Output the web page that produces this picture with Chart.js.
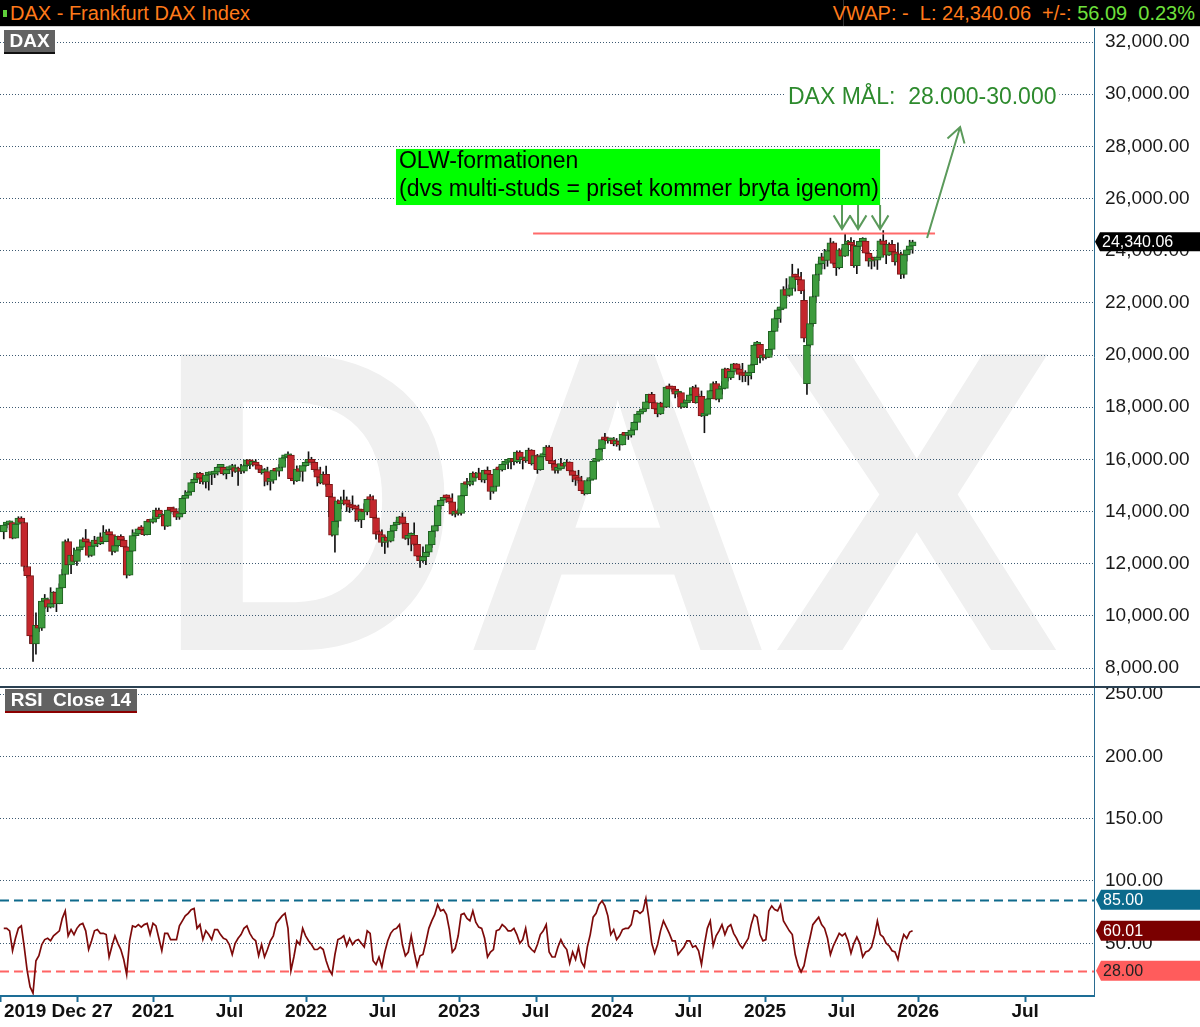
<!DOCTYPE html>
<html lang="sv">
<head>
<meta charset="UTF-8">
<title>DAX - Frankfurt DAX Index</title>
<script src="https://cdn.jsdelivr.net/npm/chart.js@4.4.1/dist/chart.umd.min.js"></script>
<style>
    body {
        margin: 0;
        width: 1200px;
        height: 1027px;
        overflow: hidden;
        position: relative;
        background: #fff;
        font-family: "Liberation Sans", Arial, sans-serif;
    }
    #hdr {
        position: absolute;
        left: 0; top: 0;
        width: 1200px; height: 26px;
        background: #000;
        border-bottom: 1px solid #d0d0d0;
        color: #ff7a1a;
        font-size: 20px;
        line-height: 26px;
    }
    #hdr .sq { position: absolute; left: 3px; top: 10px; width: 4px; height: 7px; background: #5fd03a; }
    #hdr .l { position: absolute; left: 10px; top: 0; }
    #hdr .sep { position: absolute; left: 843px; top: 0; width: 1px; height: 26px; background: #333; }
    #hdr .r { position: absolute; right: 5px; top: 0; white-space: pre; }
    #hdr .g { color: #6fe03c; }
    #top { position: absolute; left: 0; top: 28px; }
    #rsi { position: absolute; left: 0; top: 686px; }
</style>
</head>
<body>
<div id="hdr"><span class="sq"></span><span class="l">DAX - Frankfurt DAX Index</span><span class="sep"></span><span class="r">VWAP: -  L: 24,340.06  +/-: <span class="g">56.09  0.23%</span></span></div>
<canvas id="top" width="1200" height="658"></canvas>
<canvas id="rsi" width="1200" height="341"></canvas>

<script>
// veckostaplar, första fredagen
const firstWeek = '2020-01-10';

const opens = [
    // 2020
    13220,13483,13526,13577,12982,13514,13744,13579,11890,11541,9232,8928,9632,9525,10565,10626,10336,10466,10904,10465,11074,11586,12848,11949,12331,12089,
    12528,12633,12920,12838,12313,12674,12901,12765,13033,12842,13203,13116,12469,12689,13051,12909,12646,11556,12480,13077,13137,13335,13299,13114,13631,13587,
    // 2021
    13719,14050,13788,13874,13433,14057,14050,13993,13786,13920,14502,14621,14748,15107,15234,15459,15280,15136,15400,15417,15437,15520,15693,15693,15448,15607,
    15650,15688,15540,15669,15544,15761,15977,15808,15851,15781,15609,15490,15531,15156,15206,15587,15543,15688,16054,16094,16160,15257,15169,15623,15532,15756,
    // 2022
    15885,15948,15883,15603,15318,15100,15425,15042,14567,13094,13628,14413,14305,14446,14284,14164,14142,14098,13674,14027,13982,14462,14460,13762,13127,13118,
    12813,13016,12865,13254,13484,13573,13795,13544,12971,13050,13088,12741,12284,12114,12273,12438,12731,13243,13459,14224,14431,14541,14529,14370,13893,13940,
    // 2023
    13924,14610,15087,15034,15150,15476,15308,15482,15210,15578,15428,14768,14957,15629,15598,15808,15882,15922,15961,15914,16275,15983,16051,15949,16358,15830,
    16148,15603,16105,16177,16469,15952,15832,15574,15632,15840,15740,15894,15557,15387,15230,15187,14798,14687,15189,15234,15919,15967,16398,16759,16751,16706,
    // 2024
    16752,16594,16704,16556,16961,16918,16927,17117,17419,17735,17815,17936,18206,18492,18175,17930,17737,18161,18001,18772,18704,18693,18498,18557,18002,18164,
    18235,18475,18748,18172,18418,17661,17723,18322,18633,18906,18302,18699,18720,19474,19121,19374,19657,19464,19255,19215,19211,19323,19626,20385,20406,19885,
    // 2025
    19985,19906,20215,20903,21395,21732,21787,22513,22287,22551,23009,22987,22892,22100,18900,20374,21206,22242,23087,23499,23767,23630,23997,24304,23516,23350,
    24033,23787,24255,24290,24218,23426,24163,24359,24363,23902,23597,23698,23639,23739,24378,24241,23830,24240,23958,23570,23877,23092,23836,24028,24186
];
const highs = [
    13495,13560,13640,13580,13560,13800,13800,13600,12330,11550,9380,10120,10020,10650,10820,10680,11080,10930,10920,11230,11780,12910,12950,12480,12600,12630,
    12750,12990,13310,12910,12730,13050,13000,13180,13460,13300,13330,13120,12830,13060,13110,12990,12650,12580,13300,13180,13360,13460,13350,13650,13640,13800,
    14130,14130,13940,13900,14080,14110,14170,14100,14120,14570,14800,14790,15120,15290,15480,15500,15400,15420,15460,15500,15570,15730,15720,15800,15650,15700,
    15810,15790,15700,15810,15810,15990,15990,15920,15990,15800,15730,15650,15700,15250,15600,15660,15800,16070,16120,16290,16200,15620,15750,15750,15780,15950,
    16290,16080,15950,15690,15700,15520,15740,15170,14700,13950,14450,14560,14820,14560,14350,14600,14180,14250,14030,14300,14480,14650,14600,13870,13270,13300,
    13060,13100,13360,13500,13650,13810,13950,13620,13200,13180,13570,12890,12340,12650,12480,12800,13280,13490,14270,14440,14560,14640,14560,14680,14080,14100,
    14620,15100,15270,15170,15520,15500,15660,15500,15590,15710,15430,15330,15650,15740,15830,15920,15930,15990,16000,16330,16330,16070,16100,16430,16370,16160,
    16190,16140,16250,16530,16530,16080,15960,15780,16040,15850,15990,15900,15580,15400,15580,15350,14920,15230,15310,15950,16030,16420,16790,17000,16800,16800,
    16840,16800,16720,17000,17020,16980,17200,17440,17750,17890,18010,18260,18500,18570,18250,18100,18190,18170,18790,18890,18790,18800,18680,18560,18280,18340,
    18540,18800,18850,18500,18620,17800,18330,18650,18970,18990,18720,18980,19500,19490,19400,19680,19670,19580,19680,19400,19340,19650,20420,20520,20450,20000,
    20150,20300,20950,21450,21800,21850,22620,22930,22690,23480,23100,23300,23170,22500,21000,21500,22300,23100,23600,23900,24050,24050,24480,24350,23780,24080,
    24100,24640,24400,24500,24400,24200,24400,24500,24480,23950,23800,23750,23800,24440,24771,24400,24300,24400,24050,24300,23950,23850,24100,24400,24400
];
const lows = [
    12950,13370,13300,12950,12980,13500,13550,11720,11460,8940,8255,8530,9390,9440,10280,10160,10300,10330,10160,10460,11060,11580,11650,11620,12040,11930,
    12470,12630,12800,12250,12280,12650,12650,12730,12760,12840,13030,12340,12430,12640,12660,12580,11450,11550,12470,12970,13080,13160,13080,13100,13150,13550,
    13600,13780,13650,13310,13430,13930,13880,13690,13700,13880,14500,14530,14740,15090,15150,15070,15050,14900,14820,15030,15300,15400,15500,15400,15250,15450,
    15340,15500,15000,15450,15480,15720,15640,15740,15650,15500,15430,14980,15020,14820,15080,15410,15350,15650,15950,16050,15240,15050,15150,15320,15160,15720,
    15800,15800,15520,14980,15060,15050,14970,13800,13050,12440,13400,14100,14250,14000,13960,14060,13620,13620,13380,13800,13870,14340,13750,12940,12950,12660,
    12390,12630,12830,13000,13340,13500,13520,12930,12720,12490,12700,12270,11860,12050,11960,12340,12620,13020,13260,14090,14320,14350,14300,13850,13790,13860,
    13860,14570,14900,14980,15020,15280,15250,15130,15100,15360,14460,14700,14950,15520,15550,15770,15640,15630,15790,15860,15840,15630,15880,15900,15780,15630,
    15460,15580,15980,16000,15840,15690,15470,15470,15620,15660,15620,15490,15140,15000,15090,14780,14630,14670,15060,15230,15830,15940,16300,16580,16620,16690,
    16520,16500,16350,16550,16780,16760,16850,16980,17400,17620,17790,17870,18150,18150,17900,17630,17720,17880,17990,18620,18600,18350,18400,17950,17990,17980,
    18180,18300,18150,18160,17640,17020,17700,18300,18580,18280,18200,18500,18700,19000,19060,19250,19320,19050,18970,18980,18850,19080,19600,20250,19700,19800,
    19850,19900,20000,20900,21050,21250,21780,22200,22250,22550,22450,22700,22350,20500,18490,20300,21100,22050,22850,23300,23300,23400,23950,23450,23050,23300,
    23700,23780,23850,23980,23360,23120,24050,24180,23900,23400,23300,23400,23280,23700,24220,23500,23820,23930,23440,23550,22930,22950,23600,23900,23900
];
const closes = [
    13483,13526,13577,12982,13514,13744,13579,11890,11541,9232,8928,9632,9525,10565,10626,10336,10466,10904,10465,11074,11586,12848,11949,12331,12089,12528,
    12633,12920,12838,12313,12674,12901,12765,13033,12842,13203,13116,12469,12689,13051,12909,12646,11556,12480,13077,13137,13335,13299,13114,13631,13587,13719,
    14050,13788,13874,13433,14057,14050,13993,13786,13920,14502,14621,14748,15107,15234,15459,15280,15136,15400,15417,15437,15520,15693,15693,15448,15607,15650,
    15688,15540,15669,15544,15761,15977,15808,15851,15781,15609,15490,15531,15156,15206,15587,15543,15688,16054,16094,16160,15257,15169,15623,15532,15756,15885,
    15948,15883,15603,15318,15100,15425,15042,14567,13094,13628,14413,14305,14446,14284,14164,14142,14098,13674,14027,13982,14462,14460,13762,13127,13118,12813,
    13016,12865,13254,13484,13573,13795,13544,12971,13050,13088,12741,12284,12114,12273,12438,12731,13243,13459,14224,14431,14541,14529,14370,13893,13940,13924,
    14610,15087,15034,15150,15476,15308,15482,15210,15578,15428,14768,14957,15629,15598,15808,15882,15922,15961,15914,16275,15983,16051,15949,16358,15830,16148,
    15603,16105,16177,16469,15952,15832,15574,15632,15840,15740,15894,15557,15387,15230,15187,14798,14687,15189,15234,15919,15967,16398,16759,16751,16706,16752,
    16594,16704,16556,16961,16918,16927,17117,17419,17735,17815,17936,18206,18492,18175,17930,17737,18161,18001,18772,18704,18693,18498,18557,18002,18164,18235,
    18475,18748,18172,18418,17661,17723,18322,18633,18906,18302,18699,18720,19474,19121,19374,19657,19464,19255,19215,19211,19323,19626,20385,20406,19885,19985,
    19906,20215,20903,21395,21732,21787,22513,22287,22551,23009,22987,22892,22461,20642,20374,21206,22242,23087,23499,23767,23630,23997,24304,23516,23350,24033,
    23787,24255,24290,24218,23426,24163,24359,24363,23902,23597,23698,23639,23739,24378,24241,23830,24240,23958,23570,23877,23092,23836,24028,24186,24340.06
];
const rsiValues = [
    62,62,60,44,54,62,64,47,28,15, 10,36,40,49,53,54,52,56,58,60, 70,76,56,61,57,62,65,66,60,45, 52,60,61,58,58,57,39,48,56,50,
    45,37,25,52,64,63,65,63,65,66, 57,66,64,54,44,58,58,53,53,53, 64,68,72,74,77,78,62,65,53,60, 57,53,61,61,57,54,53,49,41,50,
    54,57,62,64,58,54,52,40,49,39, 45,52,56,66,69,72,74,62,28,39, 52,49,62,56,52,49,45,45,47,45, 36,29,25,41,53,54,56,48,54,49,
    52,53,50,47,60,58,36,33,39,31, 43,52,58,61,62,65,49,40,43,56, 43,32,40,41,51,62,68,73,81,76, 77,73,61,43,46,56,73,74,70,68,
    76,67,63,62,54,39,43,45,60,61, 65,63,60,60,62,57,50,53,62,48, 45,43,49,57,60,65,43,39,39,47, 53,48,45,34,43,37,47,35,31,47,
    57,71,74,81,84,80,72,57,61,53, 56,61,62,62,65,76,76,74,76,86, 70,50,42,49,60,68,63,58,52,52, 41,44,47,52,52,47,48,44,33,49,
    62,68,48,56,60,65,57,63,65,58, 54,49,46,50,54,65,73,71,57,52, 53,76,80,77,76,81,68,64,60,57, 41,32,27,32,44,54,65,68,71,65,
    62,54,41,48,53,58,56,58,52,42, 50,55,50,39,43,44,47,56,68,57, 55,50,48,44,43,37,49,57,54,59,60.01
];

const priceTicks = [8000, 10000, 12000, 14000, 16000, 18000, 20000, 22000, 24000, 26000, 28000, 30000, 32000];
const rsiTicks = [50, 100, 150, 200, 250];
const rsiLevels = [85, 28];
const xTickYears = [2020, 2020.5, 2021, 2021.5, 2022, 2022.5, 2023, 2023.5, 2024, 2024.5, 2025, 2025.5, 2026, 2026.7];
const xTickLabels = ['2019 Dec 27', '', '2021', 'Jul', '2022', 'Jul', '2023', 'Jul', '2024', 'Jul', '2025', 'Jul', '2026', 'Jul'];

const resistance = 24690;
const olwText = ['OLW-formationen', '(dvs multi-studs = priset kommer bryta igenom)'];
const studsYears = [2025.503, 2025.608, 2025.752];
const targetText = 'DAX MÅL:  28.000-30.000';

const FONT = '"Liberation Sans", Arial, sans-serif';
const X_MIN = 2020, X_MAX = 2027.15;

function toYear(ms) {
    const d = new Date(ms);
    const y = d.getUTCFullYear();
    const s = Date.UTC(y, 0, 1), e = Date.UTC(y + 1, 0, 1);
    return y + (ms - s) / (e - s);
}
const weekX = closes.map((_, i) => toYear(Date.parse(firstWeek) + i * 7 * 864e5));

const upFill = '#3d9b3d', upLine = '#1f5f22', dnFill = '#c4262c', dnLine = '#7a1616';
const isUp = i => closes[i] >= opens[i];

function fmt(v) {
    return v.toLocaleString('en-US', { minimumFractionDigits: 2, maximumFractionDigits: 2 });
}

function tag(ctx, x0, cy, h, fill, text, color) {
    ctx.fillStyle = fill;
    ctx.beginPath();
    ctx.moveTo(x0, cy);
    ctx.lineTo(x0 + 5, cy - h / 2);
    ctx.lineTo(1200, cy - h / 2);
    ctx.lineTo(1200, cy + h / 2);
    ctx.lineTo(x0 + 5, cy + h / 2);
    ctx.closePath();
    ctx.fill();
    ctx.fillStyle = color;
    ctx.font = '16px ' + FONT;
    ctx.textAlign = 'left';
    ctx.textBaseline = 'middle';
    ctx.fillText(text, x0 + 7, cy + 1);
}

function arrow(ctx, x1, y1, x2, y2, len) {
    const a = Math.atan2(y2 - y1, x2 - x1);
    ctx.beginPath();
    ctx.moveTo(x1, y1);
    ctx.lineTo(x2, y2);
    ctx.moveTo(x2 - len * Math.cos(a - 0.55), y2 - len * Math.sin(a - 0.55));
    ctx.lineTo(x2, y2);
    ctx.lineTo(x2 - len * Math.cos(a + 0.55), y2 - len * Math.sin(a + 0.55));
    ctx.stroke();
}

function labelBox(ctx, x, y, w, h, text, under) {
    ctx.fillStyle = '#626262';
    ctx.fillRect(x, y, w, h);
    ctx.fillStyle = under;
    ctx.fillRect(x, y + h, w, 2);
    ctx.fillStyle = '#fff';
    ctx.font = 'bold 19px ' + FONT;
    ctx.textAlign = 'center';
    ctx.textBaseline = 'middle';
    ctx.fillText(text, x + w / 2, y + h / 2 + 1);
}

const topDecor = {
    id: 'topDecor',
    beforeDraw(c) {
        const ctx = c.ctx;
        ctx.save();
        ctx.fillStyle = '#f0f0f0';
        ctx.font = 'bold 430px ' + FONT;
        ctx.textAlign = 'center';
        ctx.textBaseline = 'alphabetic';
        ctx.fillText('DAX', 606, 622);
        ctx.restore();
    },
    afterDraw(c) {
        const ctx = c.ctx, x = c.scales.x, y = c.scales.y;
        ctx.save();

        // motstånd
        ctx.strokeStyle = '#ff6a6a';
        ctx.lineWidth = 2;
        const ry = Math.round(y.getPixelForValue(resistance)) + 0.5;
        ctx.beginPath();
        ctx.moveTo(x.getPixelForValue(2023.484), ry);
        ctx.lineTo(x.getPixelForValue(2026.111), ry);
        ctx.stroke();

        // grön ruta
        const bx0 = x.getPixelForValue(2022.588), bx1 = x.getPixelForValue(2025.752);
        const by0 = y.getPixelForValue(27900), by1 = y.getPixelForValue(25750);
        ctx.fillStyle = '#00ff00';
        ctx.fillRect(bx0, by0, bx1 - bx0, by1 - by0);
        ctx.fillStyle = '#000';
        ctx.font = '23px ' + FONT;
        ctx.textAlign = 'left';
        ctx.textBaseline = 'middle';
        ctx.fillText(olwText[0], bx0 + 3, by0 + 13);
        ctx.fillText(olwText[1], bx0 + 3, by0 + 41);

        // pilar
        ctx.strokeStyle = '#5b9a5b';
        ctx.lineWidth = 2;
        const tipY = y.getPixelForValue(24830);
        studsYears.forEach(t => {
            const px = x.getPixelForValue(t);
            arrow(ctx, px, by1, px, tipY, 16);
        });
        arrow(ctx, x.getPixelForValue(2026.059), y.getPixelForValue(24485),
            x.getPixelForValue(2026.275), y.getPixelForValue(28740), 17);

        // mål
        ctx.font = '23px ' + FONT;
        const tx = x.getPixelForValue(2025.150), ty = y.getPixelForValue(29890);
        const tw = ctx.measureText(targetText).width;
        ctx.fillStyle = '#fff';
        ctx.fillRect(tx - 3, ty - 12, tw + 6, 24);
        ctx.fillStyle = '#2d8a2d';
        ctx.fillText(targetText, tx, ty + 1);

        labelBox(ctx, 4, 2, 51, 22, 'DAX', '#111');

        const last = closes[closes.length - 1];
        tag(ctx, 1095, y.getPixelForValue(last), 19, '#000', fmt(last), '#fff');
        ctx.restore();
    }
};

const rsiDecor = {
    id: 'rsiDecor',
    beforeDatasetsDraw(c) {
        const ctx = c.ctx, y = c.scales.y, a = c.chartArea;
        ctx.save();
        ctx.lineWidth = 2;
        ctx.setLineDash([9, 5]);
        [['#0f6a8c', rsiLevels[0]], ['#ff6464', rsiLevels[1]]].forEach(([col, v]) => {
            const py = Math.round(y.getPixelForValue(v)) + 0.5;
            ctx.strokeStyle = col;
            ctx.beginPath();
            ctx.moveTo(a.left, py);
            ctx.lineTo(a.right, py);
            ctx.stroke();
        });
        ctx.restore();
    },
    afterDraw(c) {
        const ctx = c.ctx, x = c.scales.x, y = c.scales.y, a = c.chartArea;
        ctx.save();
        ctx.fillStyle = '#2b4152';
        ctx.fillRect(0, 0, 1200, 2);

        // x-axel
        ctx.strokeStyle = '#1d6d96';
        ctx.lineWidth = 2;
        ctx.beginPath();
        ctx.moveTo(0, a.bottom);
        ctx.lineTo(a.right + 1, a.bottom);
        xTickYears.forEach(t => {
            const px = Math.round(x.getPixelForValue(t)) + 0.5;
            ctx.moveTo(px, a.bottom);
            ctx.lineTo(px, a.bottom + 6);
        });
        ctx.stroke();
        ctx.fillStyle = '#111';
        ctx.font = 'bold 19px ' + FONT;
        ctx.textBaseline = 'middle';
        xTickYears.forEach((t, i) => {
            if (!xTickLabels[i]) return;
            ctx.textAlign = i === 0 ? 'left' : 'center';
            const px = i === 0 ? 4 : x.getPixelForValue(t);
            ctx.fillText(xTickLabels[i], px, a.bottom + 16);
        });

        labelBox(ctx, 5, 3, 132, 22, 'RSI  Close 14', '#8b0000');

        tag(ctx, 1096, y.getPixelForValue(rsiLevels[0]), 20, '#0b6a8c', rsiLevels[0].toFixed(2), '#fff');
        const lastRsi = rsiValues[rsiValues.length - 1];
        tag(ctx, 1096, y.getPixelForValue(lastRsi), 20, '#7a0000', lastRsi.toFixed(2), '#fff');
        tag(ctx, 1096, y.getPixelForValue(rsiLevels[1]), 20, '#ff5c5c', rsiLevels[1].toFixed(2), '#222');
        ctx.restore();
    }
};

function yAxis(min, max, ticks) {
    return {
        position: 'right',
        min: min,
        max: max,
        afterBuildTicks: s => { s.ticks = ticks.map(v => ({ value: v })); },
        afterFit: s => { s.width = 106; s.paddingTop = 0; s.paddingBottom = 0; },
        ticks: {
            color: '#1a1a1a',
            font: { family: FONT, size: 19 },
            padding: 11,
            autoSkip: false,
            callback: v => fmt(v)
        },
        grid: { color: '#3d5a72', lineWidth: 1, drawTicks: false },
        border: { display: true, color: '#2a6b90', width: 1, dash: [1, 2] }
    };
}

const xAxis = { type: 'linear', min: X_MIN, max: X_MAX, display: false, offset: false };

new Chart(document.getElementById('top'), {
    type: 'bar',
    data: {
        datasets: [
            {
                label: 'wick',
                data: weekX.map((t, i) => ({ x: t, y: [lows[i], highs[i]] })),
                backgroundColor: '#111',
                barThickness: 1,
                grouped: false,
                order: 2
            },
            {
                label: 'body',
                data: weekX.map((t, i) => ({ x: t, y: [opens[i], closes[i]] })),
                backgroundColor: closes.map((_, i) => isUp(i) ? upFill : dnFill),
                borderColor: closes.map((_, i) => isUp(i) ? upLine : dnLine),
                borderWidth: 1,
                borderSkipped: false,
                barThickness: 7,
                minBarLength: 3,
                grouped: false,
                order: 1
            }
        ]
    },
    options: {
        responsive: false,
        animation: false,
        layout: { padding: 0 },
        plugins: { legend: { display: false }, tooltip: { enabled: false } },
        scales: { x: xAxis, y: yAxis(7310, 32537, priceTicks) }
    },
    plugins: [topDecor]
});

new Chart(document.getElementById('rsi'), {
    type: 'line',
    data: {
        datasets: [{
            label: 'RSI',
            data: weekX.map((t, i) => ({ x: t, y: rsiValues[i] })),
            borderColor: '#7d0a0a',
            borderWidth: 1.7,
            pointRadius: 0,
            tension: 0
        }]
    },
    options: {
        responsive: false,
        animation: false,
        layout: { padding: { top: 0, bottom: 31, left: 0, right: 0 } },
        plugins: { legend: { display: false }, tooltip: { enabled: false } },
        scales: { x: xAxis, y: yAxis(7.7, 256.5, rsiTicks) }
    },
    plugins: [rsiDecor]
});
</script>
</body>
</html>
